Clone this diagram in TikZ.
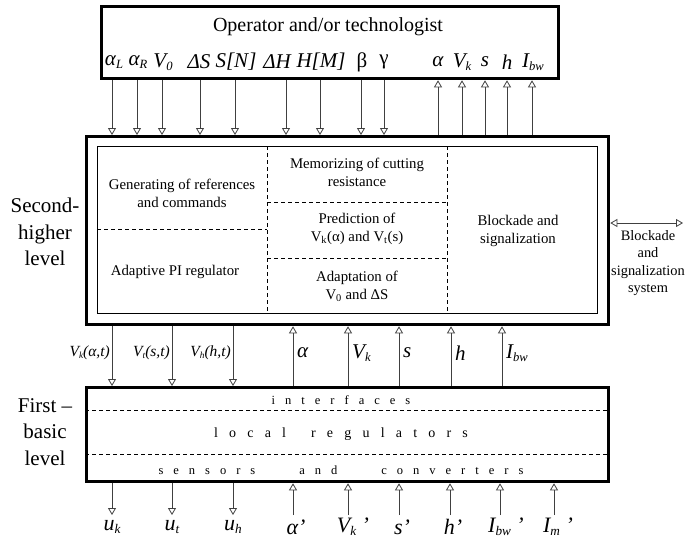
\documentclass[tikz,border=0pt]{standalone}
\usepackage{fontspec}
\setmainfont{Liberation Serif}
\usetikzlibrary{arrows.meta}
\newcommand{\lsub}[1]{\raisebox{-0.3ex}{\scalebox{0.6}{#1}}}
\begin{document}
\begin{tikzpicture}[x=1pt,y=-1pt,
  bigbox/.style={draw, line width=3.3pt, inner sep=0pt, anchor=north west},
  thinbox/.style={draw, line width=0.8pt, inner sep=0pt, anchor=north west},
  arr/.style={draw=black!75, line width=0.8pt, -{Triangle[open,length=7pt,width=8pt]}},
  dbl/.style={draw=black!75, line width=0.8pt, {Triangle[open,length=7pt,width=8pt]}-{Triangle[open,length=7pt,width=8pt]}},
  divider/.style={line width=0.9pt, dash pattern=on 4pt off 3pt},
  toplab/.style={font=\fontsize{21}{22}\selectfont\itshape, inner sep=0pt},
  midlab/.style={font=\fontsize{21}{22}\selectfont\itshape, inner sep=0pt},
  botlab/.style={font=\fontsize{22}{22}\selectfont\itshape, inner sep=0pt},
  fnlab/.style={font=\fontsize{15.5}{16}\selectfont\itshape, inner sep=0pt},
  txt/.style={font=\fontsize{14.8}{18}\selectfont, align=center, inner sep=0pt},
  big/.style={font=\fontsize{21}{26.5}\selectfont, align=center, inner sep=0pt},
  spaced/.style={font=\fontsize{12.5}{14}\selectfont\addfontfeature{LetterSpace=80}, inner sep=0pt}
]
\useasboundingbox (0,0) rectangle (686,539);

% boxes
\node[bigbox, minimum width=457pt, minimum height=72pt] (top) at (100,5) {};
\node[bigbox, minimum width=522pt, minimum height=188pt] (mid) at (85,135) {};
\node[thinbox, minimum width=500pt, minimum height=167pt] (inner) at (97,146) {};
\node[bigbox, minimum width=522pt, minimum height=94pt] (bot) at (85,386) {};

% top box content
\node[font=\fontsize{20}{22}\selectfont, inner sep=0pt] (optitle) at (328,27) {Operator and/or technologist};
\foreach \n/\x/\t in {aL/114/{α\lsub{L}}, aR/138/{α\lsub{R}}, V0/163/{V\lsub{0}},
  dS/199/{ΔS}, SN/236/{S[N]}, dH/277/{ΔH}, HM/321/{H[M]}}
  \node[toplab] (t\n) at (\x,62) {\t};
\node[toplab, font=\fontsize{21}{22}\selectfont\upshape] (tb) at (362,62) {β};
\node[toplab, font=\fontsize{21}{22}\selectfont\upshape] (tg) at (384,62) {γ};
\foreach \n/\x/\t in {ua/438/{α}, uV/462/{V\lsub{k}}, us/485/{s}, uh/507/{h}, uI/533/{I\lsub{bw}}}
  \node[toplab] (t\n) at (\x,62) {\t};

% top arrows
\foreach \x in {112,137,162,200,235,286,320,361,384}{
  \coordinate (c) at (\x,100);
  \draw[arr] (c |- top.south) -- (c |- mid.north);
}
\foreach \x in {438,462,485,507,532}{
  \coordinate (c) at (\x,100);
  \draw[arr] (c |- mid.north) -- (c |- top.south);
}

% middle box content
\draw[divider] (267,146) -- (267,313);
\draw[divider] (447,146) -- (447,313);
\draw[divider] (97,229) -- (267,229);
\draw[divider] (267,202) -- (447,202);
\draw[divider] (267,258) -- (447,258);

\node[txt] (gen) at (182,193) {Generating of references\\and commands};
\node[txt] (api) at (175,272) {Adaptive PI regulator};
\node[txt] (mem) at (357,172) {Memorizing of cutting\\resistance};
\node[txt] (pred) at (357,229) {Prediction of\\V\textsubscript{k}(α) and V\textsubscript{t}(s)};
\node[txt] (adap) at (357,286) {Adaptation of\\V\textsubscript{0} and ΔS};
\node[txt] (blk) at (518,231) {Blockade and\\signalization};

\node[big] (second) at (45,232) {Second-\\higher\\level};
\node[big] (first) at (45,432) {First –\\basic\\level};

% blockade system
\coordinate (bs) at (683,223);
\draw[dbl] (mid.east |- bs) -- (bs);
\node[txt, font=\fontsize{14.4}{17.3}\selectfont] (bsys) at (648,263) {Blockade\\and\\signalization\\system};

% middle-bottom arrows
\foreach \x/\n/\t in {112/f1/{V\lsub{k}(α,t)}, 172/f2/{V\lsub{t}(s,t)}, 233/f3/{V\lsub{h}(h,t)}}{
  \coordinate (c) at (\x,350);
  \draw[arr] (c |- mid.south) -- (c |- bot.north);
  \node[fnlab, anchor=east] (\n) at (\x-2,353) {\t};
}
\foreach \x/\n/\t in {293/m1/{α}, 348/m2/{V\lsub{k}}, 399/m3/{s}, 451/m4/{h}, 502/m5/{I\lsub{bw}}}{
  \coordinate (c) at (\x,350);
  \draw[arr] (c |- bot.north) -- (c |- mid.south);
  \node[midlab, anchor=west] (\n) at (\x+4,353) {\t};
}

% bottom box content
\draw[divider] (85,410) -- (607,410);
\draw[divider] (85,454) -- (607,454);
\node[spaced] (intf) at (341,400) {interfaces};
\node[spaced, font=\fontsize{14}{16}\selectfont\addfontfeature{LetterSpace=80}] (locreg) at (341,434) {local\hspace*{25pt}regulators};
\node[spaced] (sens) at (341,470) {sensors\hspace*{44pt}and\hspace*{44pt}converters};

% bottom arrows
\foreach \x in {112,172,233}{
  \coordinate (c) at (\x,515);
  \draw[arr] (c |- bot.south) -- (c);
}
\foreach \x in {293,348,399,450,500,554}{
  \coordinate (c) at (\x,515);
  \draw[arr] (c) -- (c |- bot.south);
}
\foreach \x/\n/\t in {112/b1/{u\lsub{k}}, 172/b2/{u\lsub{t}}, 233/b3/{u\lsub{h}},
  296/b4/{α’}, 353/b5/{V\lsub{k} ’}, 402/b6/{s’}, 453/b7/{h’}, 506/b8/{I\lsub{bw} ’}, 558/b9/{I\lsub{m} ’}}
  \node[botlab] (\n) at (\x,527) {\t};
\end{tikzpicture}
\end{document}
